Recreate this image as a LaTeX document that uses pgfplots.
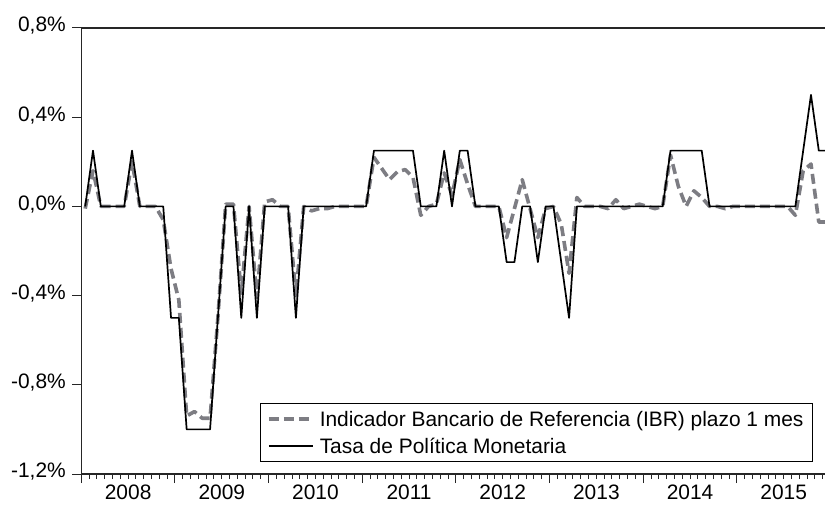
\documentclass[border=0pt]{standalone}
\usepackage{fontspec}
\setmainfont{Liberation Sans}
\usepackage{pgfplots}
\usepackage{pgfplotstable}
\pgfplotsset{compat=1.18}
\definecolor{ibrgray}{RGB}{125,125,131}

\pgfplotstableread{
i tpm ibr
0 0 -0.01
1 0.25 0.16
2 0 0
3 0 0
4 0 0
5 0 0
6 0.25 0.20
7 0 0
8 0 0
9 0 0
10 0 -0.06
11 -0.5 -0.28
12 -0.5 -0.42
13 -1.0 -0.94
14 -1.0 -0.92
15 -1.0 -0.95
16 -1.0 -0.95
17 -0.5 -0.50
18 0 0.01
19 0 0.01
20 -0.5 -0.39
21 0 0
22 -0.5 -0.41
23 0 0.02
24 0 0.03
25 0 0
26 0 0
27 -0.5 -0.40
28 0 0
29 0 -0.02
30 0 -0.01
31 0 -0.01
32 0 0
33 0 0
34 0 0
35 0 0
36 0 0
37 0.25 0.22
38 0.25 0.17
39 0.25 0.12
40 0.25 0.155
41 0.25 0.165
42 0.25 0.13
43 0 -0.04
44 0 0
45 0 0.01
46 0.25 0.15
47 0 0.05
48 0.25 0.21
49 0.25 0.10
50 0 0
51 0 0
52 0 0
53 0 0
54 -0.25 -0.14
55 -0.25 -0.01
56 0 0.12
57 0 -0.01
58 -0.25 -0.14
59 0 -0.01
60 0 0
61 -0.25 -0.08
62 -0.5 -0.30
63 0 0.04
64 0 0
65 0 0
66 0 0
67 0 -0.01
68 0 0.03
69 0 -0.01
70 0 0
71 0 0.01
72 0 0
73 0 -0.01
74 0 0
75 0.25 0.23
76 0.25 0.09
77 0.25 0
78 0.25 0.07
79 0.25 0.04
80 0 0
81 0 0
82 0 -0.01
83 0 0
84 0 0
85 0 0
86 0 0
87 0 0
88 0 0
89 0 0
90 0 0
91 0 -0.04
92 0.25 0.16
93 0.5 0.19
94 0.25 -0.07
95 0.25 -0.07
}\datatable

\begin{document}
\begin{tikzpicture}
\begin{axis}[
  at={(0,0)}, anchor=south west,
  scale only axis, width=753.1bp, height=446bp,
  xmin=-0.5, xmax=96, ymin=-1.2, ymax=0.8,
  axis line style={line width=1.2bp, black!85},
  tick align=outside,
  xtick pos=left, ytick pos=left,
  major tick length=9bp, minor tick length=5bp,
  tick style={line width=1bp, black!85},
  ytick={-1.2,-0.8,-0.4,0,0.4,0.8},
  yticklabels={{-1,2\%},{-0,8\%},{-0,4\%},{0,0\%},{0,4\%},{0,8\%}},
  yticklabel style={yshift=2bp, xshift=-3bp},
  xtick={-0.5,11.5,23.5,35.5,47.5,59.5,71.5,83.5,95.5},
  xticklabels={},
  minor x tick num=11,
  extra x ticks={5.5,17.5,29.5,41.5,53.5,65.5,77.5,89.5},
  extra x tick labels={2008,2009,2010,2011,2012,2013,2014,2015},
  extra x tick style={major tick length=0pt, xticklabel style={yshift=-7bp}},
  tick label style={font=\fontsize{21}{25}\selectfont},
  legend style={at={(0.9716,0.0269)}, anchor=south east, draw=black, line width=1bp,
    font=\fontsize{21}{25}\selectfont, inner xsep=7bp, inner ysep=5bp, row sep=6bp,
    column sep=3bp},
  legend cell align=left,
  legend image code/.code={\draw[#1] (0bp,0bp) -- (44bp,0bp);},
]
\addplot[ibrgray, line width=3.6bp, dash pattern=on 10bp off 5bp, line join=round] table[x=i, y=ibr] {\datatable};
\addlegendentry{Indicador Bancario de Referencia (IBR) plazo 1 mes}
\addplot[black, line width=1.7bp, line join=round] table[x=i, y=tpm] {\datatable};
\addlegendentry{Tasa de Política Monetaria}
\end{axis}
\pgfresetboundingbox
\path (-81.3bp,-32bp) rectangle (743.7bp,474bp);
\end{tikzpicture}
\end{document}
